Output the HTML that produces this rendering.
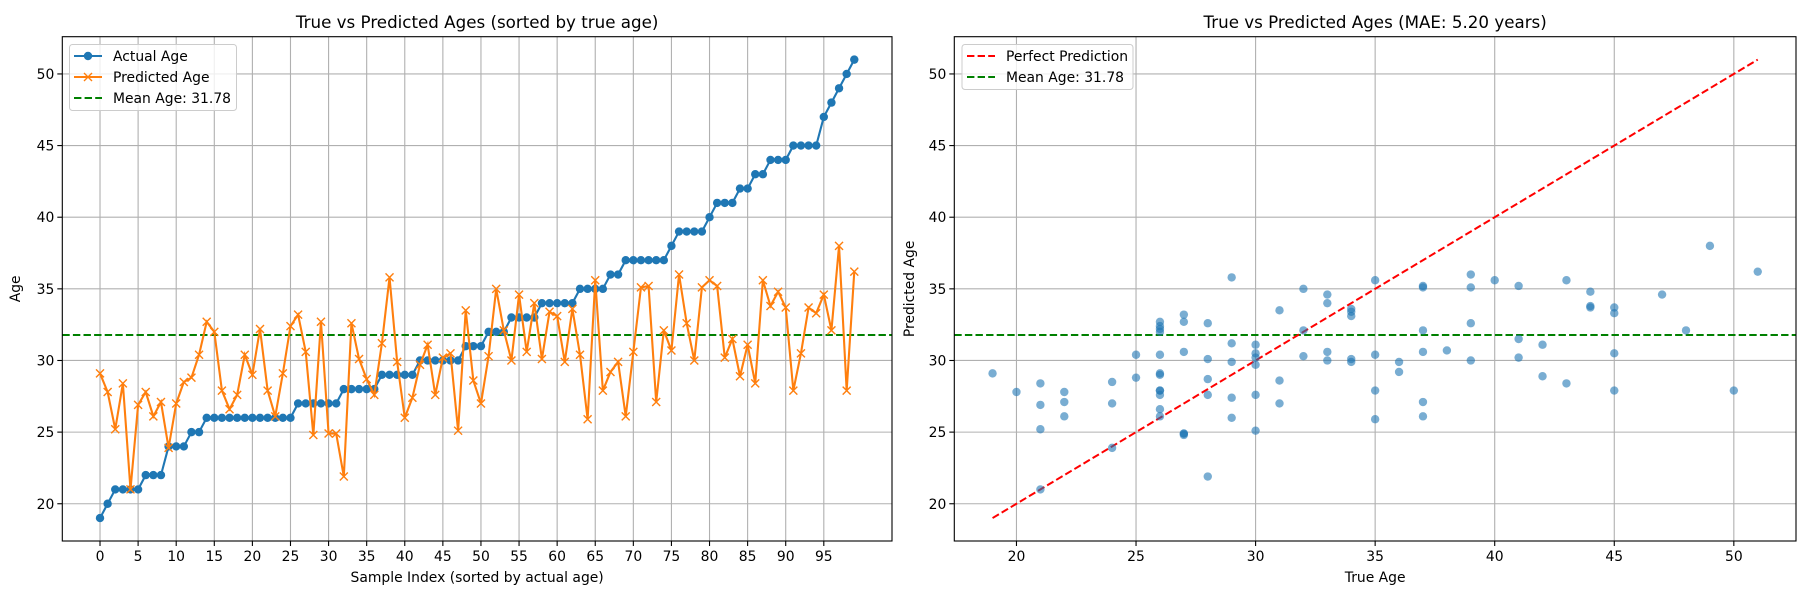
<!DOCTYPE html>
<html><head><meta charset="utf-8"><style>
body{margin:0;background:#fff;}
svg{display:block;font-family:"DejaVu Sans","Liberation Sans",sans-serif;}
</style></head><body>
<svg id="fig" width="1800" height="600" viewBox="0 0 1800 600" xmlns="http://www.w3.org/2000/svg"></svg>
<script>
const actualAges = [19,20,21,21,21,21,22,22,22,24,24,24,25,25,26,26,26,26,26,26,26,26,26,26,26,26,27,27,27,27,27,27,28,28,28,28,28,29,29,29,29,29,30,30,30,30,30,30,31,31,31,32,32,32,33,33,33,33,34,34,34,34,34,35,35,35,35,36,36,37,37,37,37,37,37,38,39,39,39,39,40,41,41,41,42,42,43,43,44,44,44,45,45,45,45,47,48,49,50,51];
const predictedAges = [29.1,27.8,25.2,28.4,21.0,26.9,27.8,26.1,27.1,23.9,27.0,28.5,28.8,30.4,32.7,32.0,27.9,26.6,27.6,30.4,29.0,32.2,27.9,26.1,29.1,32.4,33.2,30.6,24.8,32.7,24.9,24.9,21.9,32.6,30.1,28.7,27.6,31.2,35.8,29.9,26.0,27.4,29.7,31.1,27.6,30.2,30.5,25.1,33.5,28.6,27.0,30.3,35.0,32.1,30.0,34.6,30.6,34.0,30.1,33.4,33.1,29.9,33.6,30.4,25.9,35.6,27.9,29.2,29.9,26.1,30.6,35.1,35.2,27.1,32.1,30.7,36.0,32.6,30.0,35.1,35.6,35.2,30.2,31.5,28.9,31.1,28.4,35.6,33.8,34.8,33.7,27.9,30.5,33.7,33.3,34.6,32.1,38.0,27.9,36.2];
const meanAge = [31.78];
const leftXTicks = [0,5,10,15,20,25,30,35,40,45,50,55,60,65,70,75,80,85,90,95];
const rightXTicks = [20,25,30,35,40,45,50];
const yTicks = [20,25,30,35,40,45,50];

const NS="http://www.w3.org/2000/svg";
const svg=document.getElementById('fig');
function mk(tag,attrs,parent,name,inter){const e=document.createElementNS(NS,tag);for(const k in attrs)e.setAttribute(k,attrs[k]);


(parent||svg).appendChild(e);return e;}
function txt(s,attrs,parent,name){const t=mk('text',attrs,parent,name,false);t.textContent=s;return t;}

const TOP=36.7,BOT=541;
const yMin=17.4,yMax=52.6;
const ys=v=>BOT-(v-yMin)/(yMax-yMin)*(BOT-TOP);
// left axes
const L={x0:62.3,x1:892,min:-4.95,max:103.95};
const lx=v=>L.x0+(v-L.min)/(L.max-L.min)*(L.x1-L.x0);
// right axes
const R={x0:954.3,x1:1796,min:17.4,max:52.6};
const rx=v=>R.x0+(v-R.min)/(R.max-R.min)*(R.x1-R.x0);

function axes(A,xf,xticks,name){
  const g=mk('g',{},svg,name,false);
  xticks.forEach(t=>{mk('line',{x1:xf(t),x2:xf(t),y1:TOP,y2:BOT,stroke:'#b0b0b0','stroke-width':1.1},g,'x-gridline',false);
    mk('line',{x1:xf(t),x2:xf(t),y1:BOT,y2:BOT+5,stroke:'#000','stroke-width':1.1},g,'x-tick',false);
    txt(String(t),{x:xf(t),y:BOT+20,'font-size':13.9,'text-anchor':'middle'},g,'x-tick-label');});
  yTicks.forEach(t=>{mk('line',{x1:A.x0,x2:A.x1,y1:ys(t),y2:ys(t),stroke:'#b0b0b0','stroke-width':1.1},g,'y-gridline',false);
    mk('line',{x1:A.x0-5,x2:A.x0,y1:ys(t),y2:ys(t),stroke:'#000','stroke-width':1.1},g,'y-tick',false);
    txt(String(t),{x:A.x0-8,y:ys(t)+5,'font-size':13.9,'text-anchor':'end'},g,'y-tick-label');});
  return g;
}
const gl=axes(L,lx,leftXTicks,'left-axes');
const gr=axes(R,rx,rightXTicks,'right-axes');

// left series
mk('line',{x1:L.x0,x2:L.x1,y1:ys(meanAge[0]),y2:ys(meanAge[0]),stroke:'#008000','stroke-width':2,'stroke-dasharray':'7.4,3.2'},gl,'mean-age-line',false);
mk('polyline',{points:actualAges.map((v,i)=>lx(i)+','+ys(v)).join(' '),fill:'none',stroke:'#1f77b4','stroke-width':2.1},gl,'actual-age-line',false);
actualAges.forEach((v,i)=>{mk('circle',{cx:lx(i),cy:ys(v),r:4.2,fill:'#1f77b4'},gl,'actual-age-point',false);});
mk('polyline',{points:predictedAges.map((v,i)=>lx(i)+','+ys(v)).join(' '),fill:'none',stroke:'#ff7f0e','stroke-width':2.1},gl,'predicted-age-line',false);
predictedAges.forEach((v,i)=>{const x=lx(i),y=ys(v),d=4;
  mk('path',{d:`M${x-d},${y-d}L${x+d},${y+d}M${x-d},${y+d}L${x+d},${y-d}`,stroke:'#ff7f0e','stroke-width':1.4},gl,'predicted-age-marker',false);});
mk('rect',{x:L.x0,y:TOP,width:L.x1-L.x0,height:BOT-TOP,fill:'none',stroke:'#000','stroke-width':1.1},gl,'left-plot-frame',false);

// right series
mk('line',{x1:R.x0,x2:R.x1,y1:ys(meanAge[0]),y2:ys(meanAge[0]),stroke:'#008000','stroke-width':2,'stroke-dasharray':'7.4,3.2'},gr,'mean-age-line',false);
const mn=Math.min(...actualAges),mx=Math.max(...actualAges);
mk('line',{x1:rx(mn),y1:ys(mn),x2:rx(mx),y2:ys(mx),stroke:'#ff0000','stroke-width':2,'stroke-dasharray':'7.4,3.2'},gr,'perfect-prediction-line',false);
actualAges.forEach((v,i)=>{mk('circle',{cx:rx(v),cy:ys(predictedAges[i]),r:4.2,fill:'#1f77b4','fill-opacity':0.6},gr,'scatter-point',false);});
mk('rect',{x:R.x0,y:TOP,width:R.x1-R.x0,height:BOT-TOP,fill:'none',stroke:'#000','stroke-width':1.1},gr,'right-plot-frame',false);

// titles and labels
txt('True vs Predicted Ages (sorted by true age)',{x:(L.x0+L.x1)/2,y:28,'font-size':16.7,'text-anchor':'middle'},svg,'left-chart-title');
txt('True vs Predicted Ages (MAE: 5.20 years)',{x:(R.x0+R.x1)/2,y:28,'font-size':16.7,'text-anchor':'middle'},svg,'right-chart-title');
txt('Sample Index (sorted by actual age)',{x:(L.x0+L.x1)/2,y:582,'font-size':13.9,'text-anchor':'middle'},svg,'left-x-axis-title');
txt('True Age',{x:(R.x0+R.x1)/2,y:582,'font-size':13.9,'text-anchor':'middle'},svg,'right-x-axis-title');
txt('Age',{x:0,y:0,'font-size':13.9,'text-anchor':'middle',transform:`translate(20,${(TOP+BOT)/2}) rotate(-90)`},svg,'left-y-axis-title');
txt('Predicted Age',{x:0,y:0,'font-size':13.9,'text-anchor':'middle',transform:`translate(914,${(TOP+BOT)/2}) rotate(-90)`},svg,'right-y-axis-title');

// legends
const lg=mk('g',{},svg,'left-legend',false);
mk('rect',{x:69.5,y:44.5,width:167,height:66,rx:3,fill:'#fff','fill-opacity':0.8,stroke:'#ccc'},lg,'legend-box',false);
mk('line',{x1:74,x2:102,y1:56,y2:56,stroke:'#1f77b4','stroke-width':2.1},lg,'legend-actual-line',false);
mk('circle',{cx:88,cy:56,r:4.2,fill:'#1f77b4'},lg,'legend-actual-marker',false);
txt('Actual Age',{x:113,y:61,'font-size':13.9},lg,'legend-entry-actual');
mk('line',{x1:74,x2:102,y1:77,y2:77,stroke:'#ff7f0e','stroke-width':2.1},lg,'legend-predicted-line',false);
mk('path',{d:'M84,73L92,81M84,81L92,73',stroke:'#ff7f0e','stroke-width':1.4},lg,'legend-predicted-marker',false);
txt('Predicted Age',{x:113,y:82,'font-size':13.9},lg,'legend-entry-predicted');
mk('line',{x1:74,x2:102,y1:98,y2:98,stroke:'#008000','stroke-width':2,'stroke-dasharray':'7.4,3.2'},lg,'legend-mean-line',false);
txt('Mean Age: 31.78',{x:113,y:103,'font-size':13.9},lg,'legend-entry-mean');

const rg=mk('g',{},svg,'right-legend',false);
mk('rect',{x:962,y:44.5,width:171,height:45,rx:3,fill:'#fff','fill-opacity':0.8,stroke:'#ccc'},rg,'legend-box',false);
mk('line',{x1:967,x2:995,y1:56,y2:56,stroke:'#ff0000','stroke-width':2,'stroke-dasharray':'7.4,3.2'},rg,'legend-perfect-line',false);
txt('Perfect Prediction',{x:1006,y:61,'font-size':13.9},rg,'legend-entry-perfect');
mk('line',{x1:967,x2:995,y1:77,y2:77,stroke:'#008000','stroke-width':2,'stroke-dasharray':'7.4,3.2'},rg,'legend-mean-line',false);
txt('Mean Age: 31.78',{x:1006,y:82,'font-size':13.9},rg,'legend-entry-mean');
</script>
</body></html>
